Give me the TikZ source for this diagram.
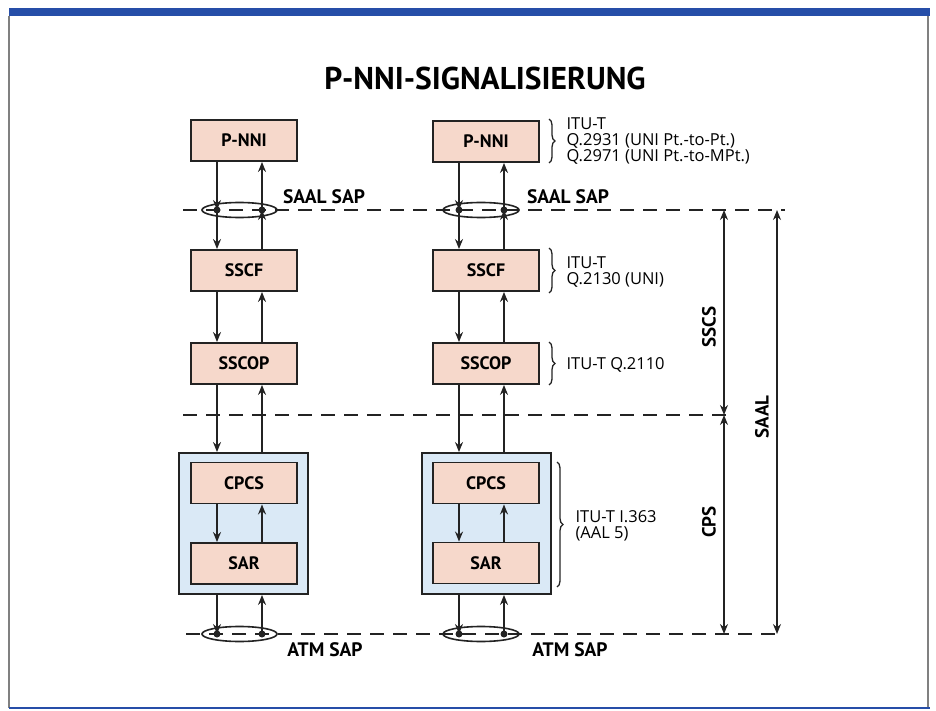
\documentclass[tikz,border=0pt]{standalone}
\usepackage{fontspec}
\setmainfont{PT Sans}
\newfontfamily\specfont{Open Sans}
\usetikzlibrary{arrows.meta,decorations.pathreplacing}

\definecolor{layerpink}{RGB}{246,216,203}
\definecolor{cpsblue}{RGB}{218,233,246}
\definecolor{barblue}{RGB}{38,78,168}
\definecolor{inkgray}{RGB}{35,35,35}

\tikzset{
  layer/.style={draw=inkgray, line width=1.9pt, fill=layerpink, minimum width=106pt, minimum height=41pt, inner sep=0pt, font=\bfseries\fontsize{18}{18}\selectfont},
  cpsframe/.style={draw=inkgray, line width=1.9pt, fill=cpsblue, minimum width=129pt, minimum height=141pt, inner sep=0pt},
  flow/.style={draw=inkgray, line width=1.5pt, -{Stealth[length=10pt,width=8pt]}},
  span/.style={draw=inkgray, line width=1.5pt, {Stealth[length=10pt,width=8pt]}-{Stealth[length=10pt,width=8pt]}},
  sapline/.style={draw=inkgray, line width=1.6pt, dash pattern=on 14pt off 9pt},
  sapring/.style={draw=inkgray, line width=1.6pt},
  sapdot/.style={circle, fill=inkgray, inner sep=0pt, minimum size=7pt},
  saplabel/.style={font=\bfseries\fontsize{19.5}{19.5}\selectfont},
  spec/.style={anchor=west, align=left, text=black, font=\specfont\fontsize{16.5}{16}\selectfont},
  specbrace/.style={draw=inkgray, line width=1.3pt, decorate, decoration={brace, amplitude=6pt}},
  partlabel/.style={rotate=90, font=\bfseries\fontsize{19}{19}\selectfont}
}

\begin{document}
\begin{tikzpicture}[x=1pt, y=-1pt]
  \useasboundingbox (0,0) rectangle (936,711);

  % Rahmen
  \fill[barblue] (9,8) rectangle (930,16);
  \draw[gray, line width=1.5pt] (9,16) -- (9,708);
  \draw[gray, line width=1.5pt] (928,16) -- (928,708);
  \draw[barblue, line width=2pt] (9,708) -- (930,708);

  \node[font=\bfseries\fontsize{31.5}{31.5}\selectfont] (title) at (485,78) {P-NNI-SIGNALISIERUNG};

  % SAP-Linien
  \coordinate (saalA) at (183,210);
  \coordinate (saalB) at (785,210);
  \coordinate (cutA) at (183,415);
  \coordinate (cutB) at (735,415);
  \coordinate (atmA) at (186,634);
  \coordinate (atmB) at (783,634);
  \draw[sapline] (saalA) -- (saalB);
  \draw[sapline] (cutA) -- (cutB);
  \draw[sapline] (atmA) -- (atmB);

  % linke Seite
  \node[cpsframe] (cpsL) at (243.5,523.5) {};
  \node[layer] (pnniL) at (244,140.5) {P-NNI};
  \node[layer] (sscfL) at (244,270.5) {SSCF};
  \node[layer] (sscopL) at (244,363.5) {SSCOP};
  \node[layer] (cpcsL) at (244,483) {CPCS};
  \node[layer] (sarL) at (244,563.5) {SAR};
  \coordinate (sL1) at (217,210);
  \coordinate (sL2) at (262,210);
  \coordinate (aL1) at (217,634);
  \coordinate (aL2) at (262,634);
  \draw[sapring] (239.5,210) ellipse [x radius=37.5pt, y radius=7.5pt];
  \draw[sapring] (239.5,634) ellipse [x radius=37.5pt, y radius=7.5pt];
  \draw[flow] (sL1 |- pnniL.south) -- (sL1);
  \draw[flow] (sL1) -- (sL1 |- sscfL.north);
  \draw[flow] (sL2 |- sscfL.north) -- (sL2);
  \draw[flow] (sL2) -- (sL2 |- pnniL.south);
  \draw[flow] (sL1 |- sscfL.south) -- (sL1 |- sscopL.north);
  \draw[flow] (sL2 |- sscopL.north) -- (sL2 |- sscfL.south);
  \draw[flow] (sL1 |- sscopL.south) -- (sL1 |- cpsL.north);
  \draw[flow] (sL2 |- cpsL.north) -- (sL2 |- sscopL.south);
  \draw[flow] (sL1 |- cpcsL.south) -- (sL1 |- sarL.north);
  \draw[flow] (sL2 |- sarL.north) -- (sL2 |- cpcsL.south);
  \draw[flow] (sL1 |- cpsL.south) -- (aL1);
  \draw[flow] (aL2) -- (aL2 |- cpsL.south);
  \node[sapdot] (dL1) at (sL1) {};
  \node[sapdot] (dL2) at (sL2) {};
  \node[sapdot] (dL3) at (aL1) {};
  \node[sapdot] (dL4) at (aL2) {};
  \node[saplabel] (saalsapL) at (324,197) {SAAL SAP};
  \node[saplabel] (atmsapL) at (325,650) {ATM SAP};

  % rechte Seite
  \node[cpsframe] (cpsR) at (486.5,523.5) {};
  \node[layer] (pnniR) at (486,141.5) {P-NNI};
  \node[layer] (sscfR) at (486,270.5) {SSCF};
  \node[layer] (sscopR) at (486,363.5) {SSCOP};
  \node[layer] (cpcsR) at (486,483) {CPCS};
  \node[layer] (sarR) at (486,563) {SAR};
  \coordinate (sR1) at (459,210);
  \coordinate (sR2) at (504,210);
  \coordinate (aR1) at (459,634);
  \coordinate (aR2) at (504,634);
  \draw[sapring] (481,210) ellipse [x radius=38pt, y radius=7.5pt];
  \draw[sapring] (481,634) ellipse [x radius=38pt, y radius=7.5pt];
  \draw[flow] (sR1 |- pnniR.south) -- (sR1);
  \draw[flow] (sR1) -- (sR1 |- sscfR.north);
  \draw[flow] (sR2 |- sscfR.north) -- (sR2);
  \draw[flow] (sR2) -- (sR2 |- pnniR.south);
  \draw[flow] (sR1 |- sscfR.south) -- (sR1 |- sscopR.north);
  \draw[flow] (sR2 |- sscopR.north) -- (sR2 |- sscfR.south);
  \draw[flow] (sR1 |- sscopR.south) -- (sR1 |- cpsR.north);
  \draw[flow] (sR2 |- cpsR.north) -- (sR2 |- sscopR.south);
  \draw[flow] (sR1 |- cpcsR.south) -- (sR1 |- sarR.north);
  \draw[flow] (sR2 |- sarR.north) -- (sR2 |- cpcsR.south);
  \draw[flow] (sR1 |- cpsR.south) -- (aR1);
  \draw[flow] (aR2) -- (aR2 |- cpsR.south);
  \node[sapdot] (dR1) at (sR1) {};
  \node[sapdot] (dR2) at (sR2) {};
  \node[sapdot] (dR3) at (aR1) {};
  \node[sapdot] (dR4) at (aR2) {};
  \node[saplabel] (saalsapR) at (568,197) {SAAL SAP};
  \node[saplabel] (atmsapR) at (570,650) {ATM SAP};

  % Normen
  \draw[specbrace] (549,119) -- (549,163);
  \node[spec] (specpnni) at (563,141) {ITU-T\\Q.2931 (UNI Pt.-to-Pt.)\\Q.2971 (UNI Pt.-to-MPt.)};
  \draw[specbrace] (549,248) -- (549,293);
  \node[spec] (specsscf) at (563,272) {ITU-T\\Q.2130 (UNI)};
  \draw[specbrace] (549,342) -- (549,385);
  \node[spec] (specsscop) at (563,365) {ITU-T Q.2110};
  \draw[specbrace] (557,462) -- (557,587);
  \node[spec] (speccps) at (572,526) {ITU-T I.363\\(AAL 5)};

  % Bereiche
  \coordinate (sscsTop) at (724,210);
  \coordinate (sscsBot) at (724,415);
  \coordinate (cpsBot) at (724,634);
  \coordinate (saalTop) at (777,210);
  \coordinate (saalBot) at (777,634);
  \draw[span] (sscsTop) -- (sscsBot);
  \draw[span] (sscsBot) -- (cpsBot);
  \draw[span] (saalTop) -- (saalBot);
  \node[partlabel] (sscs) at (709,327) {SSCS};
  \node[partlabel] (cps) at (709,522) {CPS};
  \node[partlabel] (saal) at (762,417) {SAAL};
\end{tikzpicture}
\end{document}
